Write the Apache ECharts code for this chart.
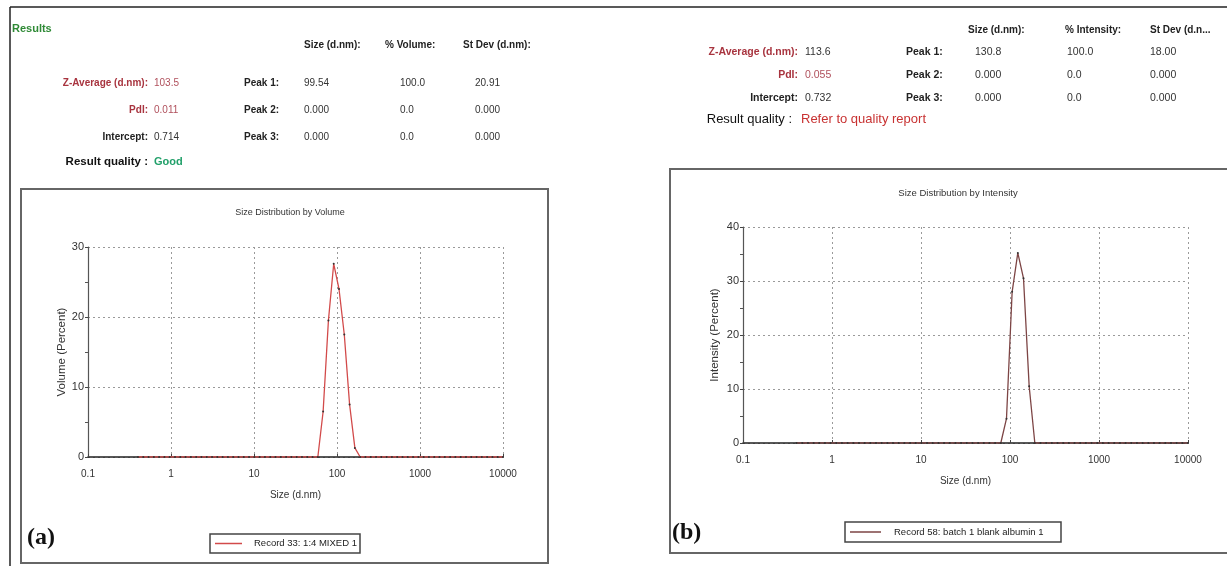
<!DOCTYPE html>
<html>
<head>
<meta charset="utf-8">
<script src="https://cdn.jsdelivr.net/npm/echarts@6/dist/echarts.min.js"></script>
<style>
html,body{margin:0;padding:0;background:#fff;}
#c{width:1227px;height:566px;}
</style>
</head>
<body>
<div id="c"></div>
<script>
// Standard size bins (d.nm)
const sizeBins = [0.4,0.4632,0.5365,0.6213,0.7195,0.8332,0.9649,1.117,1.294,1.499,1.736,2.01,2.328,2.696,3.122,3.615,4.187,4.849,5.615,6.503,7.531,8.721,10.1,11.7,13.54,15.69,18.17,21.04,24.36,28.21,32.67,37.84,43.82,50.75,58.77,68.06,78.82,91.28,105.7,122.4,141.8,164.2,190.1,220.2,255.0,295.3,342.0,396.1,458.7,531.2,615.1,712.4,825.0,955.4,1106,1281,1484,1718,1990,2305,2669,3091,3580,4145,4801,5560,6439,7456,8635,10000];
// (a) Volume (%) per bin
const volumeA = [0,0,0,0,0,0,0,0,0,0,0,0,0,0,0,0,0,0,0,0,0,0,0,0,0,0,0,0,0,0,0,0,0,0,0,6.5,19.5,27.6,24.0,17.5,7.5,1.3,0,0,0,0,0,0,0,0,0,0,0,0,0,0,0,0,0,0,0,0,0,0,0,0,0,0,0,0];
// (b) Intensity (%) per bin
const intensityB = [0,0,0,0,0,0,0,0,0,0,0,0,0,0,0,0,0,0,0,0,0,0,0,0,0,0,0,0,0,0,0,0,0,0,0,0,0,4.5,28.0,35.2,30.5,10.5,0,0,0,0,0,0,0,0,0,0,0,0,0,0,0,0,0,0,0,0,0,0,0,0,0,0,0,0];
const xTickLabels = ['0.1','1','10','100','1000','10000'];
const yTicksA = [0,10,20,30];
const yTicksB = [0,10,20,30,40];
const titleA = 'Size Distribution by Volume';
const titleB = 'Size Distribution by Intensity';
const legendA = 'Record 33: 1:4 MIXED 1';
const legendB = 'Record 58: batch 1 blank albumin 1';

// Results tables
const tableA = {
  head: ['Size (d.nm):','% Volume:','St Dev (d.nm):'],
  left: [['Z-Average (d.nm):','103.5'],['PdI:','0.011'],['Intercept:','0.714']],
  peaks: [['Peak 1:','99.54','100.0','20.91'],['Peak 2:','0.000','0.0','0.000'],['Peak 3:','0.000','0.0','0.000']],
  quality: 'Good'
};
const tableB = {
  head: ['Size (d.nm):','% Intensity:','St Dev (d.n...'],
  left: [['Z-Average (d.nm):','113.6'],['PdI:','0.055'],['Intercept:','0.732']],
  peaks: [['Peak 1:','130.8','100.0','18.00'],['Peak 2:','0.000','0.0','0.000'],['Peak 3:','0.000','0.0','0.000']],
  quality: 'Refer to quality report'
};

const FONT = '"Liberation Sans", Arial, sans-serif';
const pairs = (vals) => sizeBins.map((s,i)=>[s, vals[i]]);
const xLabelFmt = (v) => { const k = Math.round(Math.log10(v)) + 1; return xTickLabels[k] !== undefined ? xTickLabels[k] : ''; };

function xAxisCfg(gridIndex, gap){
  return {
    gridIndex, type:'log', logBase:10, min:0.1, max:10000,
    name:'Size (d.nm)', nameLocation:'middle', nameGap:gap,
    nameTextStyle:{fontFamily:FONT, fontSize:10, color:'#333'},
    axisLine:{show:true, onZero:false, lineStyle:{color:'#222', width:1.5}},
    axisTick:{show:true, inside:true, length:3, lineStyle:{color:'#444'}},
    axisLabel:{fontFamily:FONT, fontSize:10, color:'#333', margin:12, formatter:xLabelFmt},
    splitLine:{show:true, lineStyle:{color:'#9a9a9a', type:[2,3], width:1}},
    minorTick:{show:false}
  };
}
function yAxisCfg(gridIndex, max, name, gap){
  return {
    gridIndex, type:'value', min:0, max:max, interval:10,
    name:name, nameLocation:'middle', nameGap:gap, nameRotate:90,
    nameTextStyle:{fontFamily:FONT, fontSize:11.5, color:'#333'},
    axisLine:{show:true, lineStyle:{color:'#555', width:1.2}},
    axisTick:{show:true, inside:false, length:3, lineStyle:{color:'#444'}},
    minorTick:{show:true, splitNumber:2, length:3, lineStyle:{color:'#555'}},
    axisLabel:{fontFamily:FONT, fontSize:11, color:'#333', margin:4},
    splitLine:{show:true, lineStyle:{color:'#9a9a9a', type:[2,3], width:1}}
  };
}

function tableGraphics(t, cfg){
  const g = [];
  const txt = (x,y,s,style) => g.push({type:'text', x, y, style:Object.assign({text:s, font:cfg.valFont+'px '+FONT, fill:'#222', textVerticalAlign:'middle'}, style)});
  t.head.forEach((h,i)=> txt(cfg.headX[i], cfg.headY, h, {font:'bold '+cfg.headFont+'px '+FONT, fill:'#222'}));
  t.left.forEach((r,i)=>{
    const y = cfg.rowY[i];
    const red = i<2;
    txt(cfg.labelRight, y, r[0], {font:'bold '+cfg.labFont+'px '+FONT, fill: red ? '#a8343f' : '#222', textAlign:'right'});
    txt(cfg.valueX, y, r[1], {fill: (red && cfg.redVals[i]) ? '#b0505c' : '#333'});
  });
  t.peaks.forEach((r,i)=>{
    const y = cfg.rowY[i];
    txt(cfg.peakX, y, r[0], {font:'bold '+cfg.labFont+'px '+FONT, fill:'#222'});
    txt(cfg.colX[0], y, r[1], {fill:'#333'});
    txt(cfg.colX[1], y, r[2], {fill:'#333'});
    txt(cfg.colX[2], y, r[3], {fill:'#333'});
  });
  txt(cfg.rqRight, cfg.qY, 'Result quality :', {font:cfg.rqFont+' '+FONT, fill:'#111', textAlign:'right'});
  txt(cfg.qX, cfg.qY, t.quality, {font:cfg.qFont+' '+FONT, fill:cfg.qColor});
  return g;
}

const graphics = [
  // outer frame lines
  {type:'line', shape:{x1:10, y1:7, x2:1227, y2:7}, style:{stroke:'#222', lineWidth:1.5}},
  {type:'line', shape:{x1:10, y1:7, x2:10, y2:566}, style:{stroke:'#222', lineWidth:1.5}},
  // chart boxes
  {type:'rect', shape:{x:21, y:189, width:527, height:374}, style:{fill:'none', stroke:'#666', lineWidth:2}},
  {type:'rect', shape:{x:670, y:169, width:566, height:384}, style:{fill:'none', stroke:'#666', lineWidth:2}},
  // Results header
  {type:'text', x:12, y:29, style:{text:'Results', font:'bold 11px '+FONT, fill:'#2f8a36', textVerticalAlign:'middle'}},
  // panel letters
  {type:'text', x:27, y:538, style:{text:'(a)', font:'bold 24px "Liberation Serif", "DejaVu Serif", serif', fill:'#111', textVerticalAlign:'middle'}},
  {type:'text', x:672, y:533, style:{text:'(b)', font:'bold 24px "Liberation Serif", "DejaVu Serif", serif', fill:'#111', textVerticalAlign:'middle'}},
  // legends
  {type:'rect', shape:{x:210, y:534, width:150, height:19}, style:{fill:'#fff', stroke:'#444', lineWidth:1.5}},
  {type:'line', shape:{x1:215, y1:543.5, x2:242, y2:543.5}, style:{stroke:'#d24a4a', lineWidth:1.5}},
  {type:'text', x:254, y:543.5, style:{text:legendA, font:'9.5px '+FONT, fill:'#222', textVerticalAlign:'middle'}},
  {type:'rect', shape:{x:845, y:522, width:216, height:20}, style:{fill:'#fff', stroke:'#444', lineWidth:1.5}},
  {type:'line', shape:{x1:850, y1:532, x2:881, y2:532}, style:{stroke:'#7d4545', lineWidth:1.5}},
  {type:'text', x:894, y:532, style:{text:legendB, font:'9.5px '+FONT, fill:'#222', textVerticalAlign:'middle'}}
].concat(
  tableGraphics(tableA, {headX:[304,385,463], colX:[304,400,475], headY:45, headFont:10, labFont:10, valFont:10,
    rowY:[83,110,137], labelRight:148, valueX:154, peakX:244, redVals:[true,true],
    rqRight:148, qX:154, qY:162, rqFont:'bold 11.5px', qFont:'bold 11px', qColor:'#22a06a'}),
  tableGraphics(tableB, {headX:[968,1065,1150], colX:[975,1067,1150], headY:30, headFont:10, labFont:10.5, valFont:10.5,
    rowY:[52,75,98], labelRight:798, valueX:805, peakX:906, redVals:[false,true],
    rqRight:792, qX:801, qY:119, rqFont:'13px', qFont:'13px', qColor:'#c83232'})
);

const chart = echarts.init(document.getElementById('c'), null, {renderer:'canvas'});
chart.setOption({
  animation:false,
  backgroundColor:'#fff',
  title:[
    {text:titleA, left:285, top:203, textAlign:'center', textStyle:{fontFamily:FONT, fontSize:9, fontWeight:'normal', color:'#333'}},
    {text:titleB, left:953, top:183, textAlign:'center', textStyle:{fontFamily:FONT, fontSize:9.5, fontWeight:'normal', color:'#333'}}
  ],
  grid:[
    {left:88, top:247, width:415, height:210},
    {left:743, top:227, width:445, height:216}
  ],
  xAxis:[xAxisCfg(0,33), xAxisCfg(1,33)],
  yAxis:[yAxisCfg(0, yTicksA[yTicksA.length-1], 'Volume (Percent)', 20), yAxisCfg(1, yTicksB[yTicksB.length-1], 'Intensity (Percent)', 22)],
  series:[
    {type:'line', name:legendA, xAxisIndex:0, yAxisIndex:0, data:pairs(volumeA), symbol:'circle', symbolSize:2, showSymbol:true,
     itemStyle:{color:'#333'}, lineStyle:{color:'#d24a4a', width:1.3}},
    {type:'line', name:legendB, xAxisIndex:1, yAxisIndex:1, data:pairs(intensityB), symbol:'circle', symbolSize:2, showSymbol:true,
     itemStyle:{color:'#333'}, lineStyle:{color:'#7d4545', width:1.3}}
  ],
  graphic:graphics
});
</script>
</body>
</html>
